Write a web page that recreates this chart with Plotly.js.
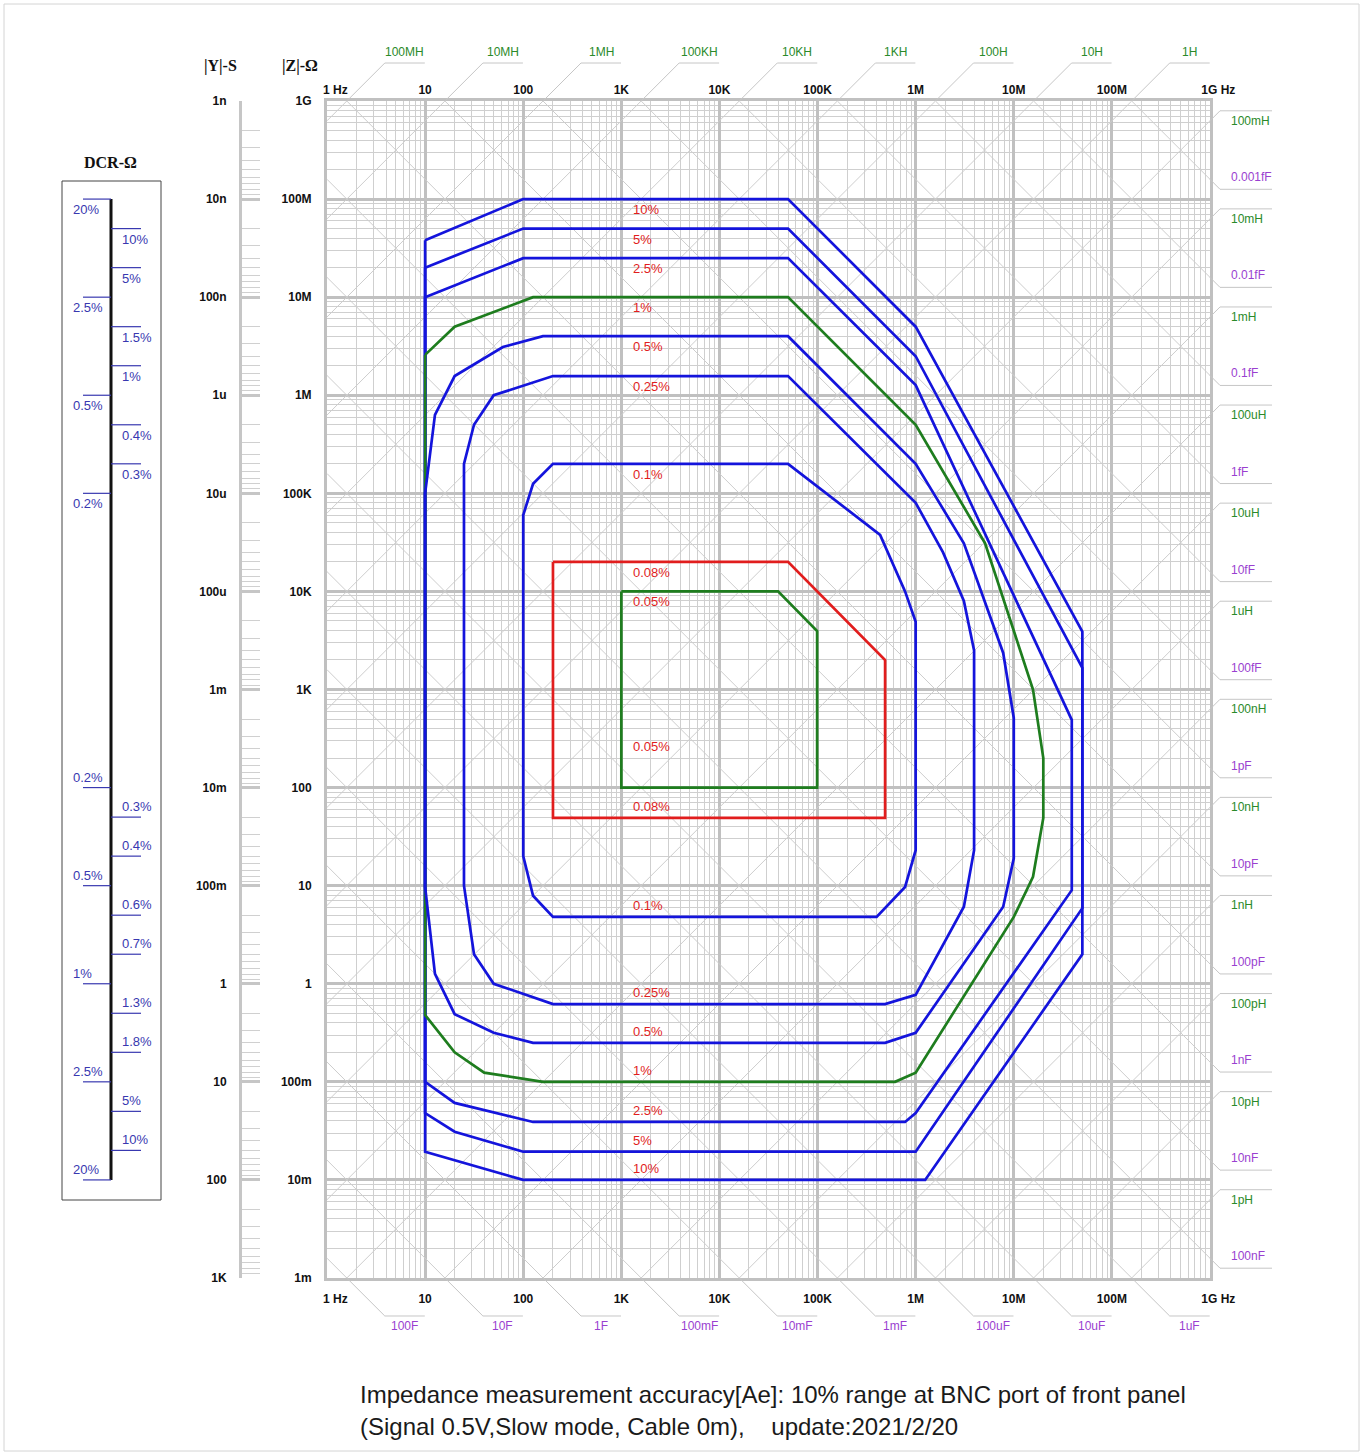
<!DOCTYPE html>
<html><head><meta charset="utf-8">
<script src="https://cdn.plot.ly/plotly-3.0.1.min.js"></script>
<style>html,body{margin:0;padding:0;background:#fff}</style>
</head><body>
<div id="chart" style="width:1364px;height:1452px"></div>
<script>
// ---------------- data ----------------
const freqTicks = [1, 10, 100, 1e3, 1e4, 1e5, 1e6, 1e7, 1e8, 1e9];
const freqLabels = ['1 Hz', '10', '100', '1K', '10K', '100K', '1M', '10M', '100M', '1G Hz'];
const zTicks = [1e9, 1e8, 1e7, 1e6, 1e5, 1e4, 1e3, 100, 10, 1, 0.1, 0.01, 0.001];
const zLabels = ['1G', '100M', '10M', '1M', '100K', '10K', '1K', '100', '10', '1', '100m', '10m', '1m'];
const yTicks = [1e-9, 1e-8, 1e-7, 1e-6, 1e-5, 1e-4, 1e-3, 1e-2, 0.1, 1, 10, 100, 1000];
const yLabels = ['1n', '10n', '100n', '1u', '10u', '100u', '1m', '10m', '100m', '1', '10', '100', '1K'];

const inductances = [1e8, 1e7, 1e6, 1e5, 1e4, 1e3, 100, 10, 1, 0.1, 0.01, 1e-3, 1e-4, 1e-5, 1e-6, 1e-7, 1e-8, 1e-9, 1e-10, 1e-11, 1e-12];
const inductanceLabels = ['100MH', '10MH', '1MH', '100KH', '10KH', '1KH', '100H', '10H', '1H', '100mH', '10mH', '1mH', '100uH', '10uH', '1uH', '100nH', '10nH', '1nH', '100pH', '10pH', '1pH'];
const capacitances = [100, 10, 1, 0.1, 0.01, 1e-3, 1e-4, 1e-5, 1e-6, 1e-7, 1e-8, 1e-9, 1e-10, 1e-11, 1e-12, 1e-13, 1e-14, 1e-15, 1e-16, 1e-17, 1e-18];
const capacitanceLabels = ['100F', '10F', '1F', '100mF', '10mF', '1mF', '100uF', '10uF', '1uF', '100nF', '10nF', '1nF', '100pF', '10pF', '1pF', '100fF', '10fF', '1fF', '0.1fF', '0.01fF', '0.001fF'];

// accuracy contours: frequency (Hz) and |Z| (ohm)
const acc10F = [10, 100, 5e4, 1e6, 5e7, 5e7, 1.25e6, 100, 10, 10];
const acc10Z = [3.8e7, 1e8, 1e8, 5e6, 3.9e3, 2, 0.01, 0.01, 0.0194, 3.8e7];
const acc5F = [10, 100, 5e4, 1e6, 5e7, 5e7, 1e6, 100, 20, 10, 10];
const acc5Z = [2e7, 5e7, 5e7, 2.5e6, 1.66e3, 5.9, 0.0194, 0.0194, 0.031, 0.048, 2e7];
const acc2p5F = [10, 100, 5e4, 1e6, 3.9e7, 3.9e7, 1e6, 7.8e5, 126, 20, 10, 10];
const acc2p5Z = [1e7, 2.5e7, 2.5e7, 1.27e6, 490, 9, 0.048, 0.039, 0.039, 0.061, 0.1, 1e7];
const acc1F = [10, 20, 126, 5e4, 1e6, 5.1e6, 1.57e7, 2e7, 2e7, 1.57e7, 1e7, 1e6, 6.17e5, 159, 40, 20, 10, 10];
const acc1Z = [2.58e6, 5e6, 1e7, 1e7, 5e5, 3.1e4, 1e3, 200, 49, 12.3, 4.8, 0.124, 0.1, 0.1, 0.124, 0.2, 0.48, 2.58e6];
const acc0p5F = [10, 12.6, 20, 62, 159, 5e4, 1e6, 3.1e6, 7.8e6, 1e7, 1e7, 7.8e6, 1e6, 4.88e5, 126, 50, 20, 12.6, 10, 10];
const acc0p5Z = [1e5, 6.3e5, 1.57e6, 3.1e6, 4e6, 4e6, 2e5, 3.1e4, 2.36e3, 513, 19, 6.1, 0.316, 0.25, 0.25, 0.316, 0.49, 1.26, 9.7, 1e5];
const acc0p25F = [24.9, 24.9, 31.5, 50, 201, 5e4, 1e6, 1.9e6, 3.1e6, 3.94e6, 3.94e6, 3.1e6, 1e6, 4.88e5, 201, 50, 31.5, 24.9];
const acc0p25Z = [10, 2e5, 5e5, 1e6, 1.57e6, 1.57e6, 8e4, 2.5e4, 8e3, 2.5e3, 23, 6.1, 0.77, 0.62, 0.62, 1, 2, 10];
const acc0p1F = [100, 100, 126, 201, 5e4, 4.34e5, 7.8e5, 1e6, 1e6, 7.8e5, 4e5, 201, 126, 100];
const acc0p1Z = [20, 6e4, 1.25e5, 2e5, 2e5, 3.77e4, 1e4, 4.9e3, 23, 9.7, 4.8, 4.8, 7.9, 20];
const acc0p08F = [201, 5e4, 4.88e5, 4.88e5, 201, 201];
const acc0p08Z = [2e4, 2e4, 2e3, 49, 49, 2e4];
const acc0p05F = [1e3, 3.96e4, 9.9e4, 9.9e4, 1e3, 1e3];
const acc0p05Z = [1e4, 1e4, 3.95e3, 100, 100, 1e4];

// contour labels: text and |Z| of the line they name
const accLabelText = ['10%', '5%', '2.5%', '1%', '0.5%', '0.25%', '0.1%', '0.08%', '0.05%', '0.05%', '0.08%', '0.1%', '0.25%', '0.5%', '1%', '2.5%', '5%', '10%'];
const accLabelZ = [1e8, 5e7, 2.5e7, 1e7, 4e6, 1.57e6, 2e5, 2e4, 1e4, 260, 49, 4.8, 0.62, 0.25, 0.1, 0.039, 0.0194, 0.01];
const accLabelF = 1259;

// DCR scale
const dcrLeftZ = [1e8, 1e7, 1e6, 1e5, 100, 10, 1, 0.1, 0.01];
const dcrLeftText = ['20%', '2.5%', '0.5%', '0.2%', '0.2%', '0.5%', '1%', '2.5%', '20%'];
const dcrRightZ = [5e7, 2e7, 5e6, 2e6, 5e5, 2e5, 50, 20, 5, 2, 0.5, 0.2, 0.05, 0.02];
const dcrRightText = ['10%', '5%', '1.5%', '1%', '0.4%', '0.3%', '0.3%', '0.4%', '0.6%', '0.7%', '1.3%', '1.8%', '5%', '10%'];

const captionLines = ['Impedance measurement accuracy[Ae]: 10% range at BNC port of front panel',
                      '(Signal 0.5V,Slow mode, Cable 0m),    update:2021/2/20'];

// ---------------- layout geometry / style ----------------
const W = 1364, H = 1452;
const xDom = [327 / W, 1210 / W];
const yDom = [1 - 1278 / H, 1 - 101 / H];
const xR = [0, 9], yR = [-3, 9];
const xPer = (xR[1] - xR[0]) / (xDom[1] - xDom[0]);
const yPer = (yR[1] - yR[0]) / (yDom[1] - yDom[0]);
const x2R = [xR[0] - xDom[0] * xPer, xR[1] + (1 - xDom[1]) * xPer];
const y2R = [yR[0] - yDom[0] * yPer, yR[1] + (1 - yDom[1]) * yPer];
const DEC = (xDom[1] - xDom[0]) * W / 9; // px per decade
const LOG2PI = Math.log10(2 * Math.PI);

const BLUE = '#1414dc', GREEN = '#1e7d1e', RED = '#e11d1d';
const GRID_MAJOR = '#c0c0c0', GRID_MINOR = '#cfcfcf', DIAG = '#cdcdcd', LEAD = '#c6c6c6';
const L_COLOR = '#2a8a2a', C_COLOR = '#9a3fd0', DCR_COLOR = '#3838b0';
const SANS = 'Liberation Sans, Arial, Helvetica, sans-serif';
const SERIF = 'Liberation Serif, DejaVu Serif, serif';
const NB = '\u00a0';
const pad = s => s.indexOf(' Hz') >= 0 ? NB.repeat(5) + s : s;
const bold = s => '<b>' + s + '</b>';
const tickFont = {family: SANS, size: 12, color: '#111'};

const traces = [];
// constant-L and constant-C diagonals (inside plot)
const Lx = [], Ly = [], Cx = [], Cy = [];
inductances.forEach(L => {
  const a = LOG2PI + Math.log10(L);
  const xs = Math.max(xR[0], yR[0] - a), xe = Math.min(xR[1], yR[1] - a);
  if (xe > xs) { Lx.push(10 ** xs, 10 ** xe, null); Ly.push(10 ** (xs + a), 10 ** (xe + a), null); }
});
capacitances.forEach(C => {
  const b = -LOG2PI - Math.log10(C);
  const xs = Math.max(xR[0], b - yR[1]), xe = Math.min(xR[1], b - yR[0]);
  if (xe > xs) { Cx.push(10 ** xs, 10 ** xe, null); Cy.push(10 ** (b - xs), 10 ** (b - xe), null); }
});
const common = {mode: 'lines', hoverinfo: 'skip', showlegend: false};
traces.push(Object.assign({x: Lx, y: Ly, line: {color: DIAG, width: 1}, xaxis: 'x', yaxis: 'y'}, common));
traces.push(Object.assign({x: Cx, y: Cy, line: {color: DIAG, width: 1}, xaxis: 'x', yaxis: 'y'}, common));

// leaders (outside plot) + labels
const annotations = [];
const dT = 38 / DEC, hT = 40 / DEC, dR = 10 / DEC, hR = 52 / DEC, tR = 19 / DEC;
const LDx = [], LDy = [];
function addLeader(pts) { pts.forEach(p => { LDx.push(10 ** p[0]); LDy.push(10 ** p[1]); }); LDx.push(null); LDy.push(null); }
inductances.forEach((L, i) => {
  const a = LOG2PI + Math.log10(L);
  const lf = {family: SANS, size: 12, color: L_COLOR};
  if (yR[1] - a <= xR[1]) {
    const x0 = yR[1] - a;
    addLeader([[x0, yR[1]], [x0 + dT, yR[1] + dT], [x0 + dT + hT, yR[1] + dT]]);
    annotations.push({xref: 'x2', yref: 'y2', x: x0 + dT + hT / 2, y: yR[1] + dT, yanchor: 'bottom', xanchor: 'center', yshift: 2, text: inductanceLabels[i], showarrow: false, font: lf});
  } else {
    const y0 = xR[1] + a;
    addLeader([[xR[1], y0], [xR[1] + dR, y0 + dR], [xR[1] + dR + hR, y0 + dR]]);
    annotations.push({xref: 'x2', yref: 'y2', x: xR[1] + tR, y: y0 + dR, yanchor: 'top', xanchor: 'left', yshift: -1, text: inductanceLabels[i], showarrow: false, font: lf});
  }
});
capacitances.forEach((C, i) => {
  const b = -LOG2PI - Math.log10(C);
  const cf = {family: SANS, size: 12, color: C_COLOR};
  if (b - yR[0] <= xR[1]) {
    const x0 = b - yR[0];
    addLeader([[x0, yR[0]], [x0 + dT, yR[0] - dT], [x0 + dT + hT, yR[0] - dT]]);
    annotations.push({xref: 'x2', yref: 'y2', x: x0 + dT + hT / 2, y: yR[0] - dT, yanchor: 'top', xanchor: 'center', yshift: -1, text: capacitanceLabels[i], showarrow: false, font: cf});
  } else {
    const y0 = b - xR[1];
    addLeader([[xR[1], y0], [xR[1] + dR, y0 - dR], [xR[1] + dR + hR, y0 - dR]]);
    annotations.push({xref: 'x2', yref: 'y2', x: xR[1] + tR, y: y0 - dR, yanchor: 'bottom', xanchor: 'left', yshift: 3, text: capacitanceLabels[i], showarrow: false, font: cf});
  }
});
traces.push(Object.assign({x: LDx, y: LDy, line: {color: LEAD, width: 1}, xaxis: 'x2', yaxis: 'y2'}, common));

// accuracy contours
const contours = [
  [acc10F, acc10Z, BLUE], [acc5F, acc5Z, BLUE], [acc2p5F, acc2p5Z, BLUE], [acc1F, acc1Z, GREEN],
  [acc0p5F, acc0p5Z, BLUE], [acc0p25F, acc0p25Z, BLUE], [acc0p1F, acc0p1Z, BLUE],
  [acc0p08F, acc0p08Z, RED], [acc0p05F, acc0p05Z, GREEN]
];
contours.forEach(c => traces.push(Object.assign({x: c[0], y: c[1], line: {color: c[2], width: 2.7}, xaxis: 'x', yaxis: 'y'}, common)));

// dummy traces so the helper axes exist
traces.push({x: [10], y: [1], xaxis: 'x3', yaxis: 'y', mode: 'markers', marker: {opacity: 0}, hoverinfo: 'skip', showlegend: false});
traces.push({x: [10], y: [1], xaxis: 'x', yaxis: 'y4', mode: 'markers', marker: {opacity: 0}, hoverinfo: 'skip', showlegend: false});

// contour labels
accLabelText.forEach((t, i) => {
  const anc = i < 9 ? 'top' : (i === 9 ? 'middle' : 'bottom');
  annotations.push({xref: 'x', yref: 'y', x: Math.log10(accLabelF), y: Math.log10(accLabelZ[i]), xanchor: 'left', yanchor: anc,
    yshift: anc === 'top' ? -1 : (anc === 'bottom' ? 2 : 0), text: t, showarrow: false, font: {family: SANS, size: 13, color: RED}});
});

// DCR panel
const shapes = [];
const px = p => p / W, py = p => 1 - p / H;
shapes.push({type: 'rect', xref: 'paper', yref: 'paper', x0: px(62), x1: px(161), y0: py(1200), y1: py(181), line: {color: '#444', width: 1}});
shapes.push({type: 'line', xref: 'paper', yref: 'y2', x0: px(111), x1: px(111), y0: dcrLeftZ[0], y1: dcrLeftZ[dcrLeftZ.length - 1], line: {color: '#111', width: 3}});
const dcrFont = {family: SANS, size: 13, color: DCR_COLOR};
dcrLeftZ.forEach((z, i) => {
  shapes.push({type: 'line', xref: 'paper', yref: 'y2', x0: px(83), x1: px(111), y0: z, y1: z, line: {color: DCR_COLOR, width: 1.2}});
  const up = z < 1e3;
  annotations.push({xref: 'paper', yref: 'y2', x: px(71), y: Math.log10(z), xanchor: 'left', yanchor: up ? 'bottom' : 'top', yshift: up ? 1 : -1, text: dcrLeftText[i], showarrow: false, font: dcrFont});
});
dcrRightZ.forEach((z, i) => {
  shapes.push({type: 'line', xref: 'paper', yref: 'y2', x0: px(111), x1: px(141), y0: z, y1: z, line: {color: DCR_COLOR, width: 1.2}});
  const up = z < 1e3;
  annotations.push({xref: 'paper', yref: 'y2', x: px(120), y: Math.log10(z), xanchor: 'left', yanchor: up ? 'bottom' : 'top', yshift: up ? 1 : -1, text: dcrRightText[i], showarrow: false, font: dcrFont});
});

// titles
const titleFont = {family: SERIF, size: 16, color: '#111'};
const titleAnn = (t, x, y) => ({xref: 'paper', yref: 'paper', x: px(x), y: py(y), xanchor: 'center', yanchor: 'middle', text: '<b>' + t + '</b>', showarrow: false, font: titleFont});
annotations.push(titleAnn('DCR-Ω', 110, 163));
annotations.push(titleAnn('|Y|-S', 220, 66));
annotations.push(titleAnn('|Z|-Ω', 300, 66));
captionLines.forEach((t, i) => annotations.push({xref: 'paper', yref: 'paper', x: px(358), y: py(1394 + 32 * i), xanchor: 'left', yanchor: 'middle',
  text: t.replace(/ {2,}/g, m => NB.repeat(m.length)), showarrow: false, font: {family: 'Liberation Sans Narrow, Liberation Sans, Arial, sans-serif', size: 24, color: '#1a1a1a'}}));

// page frame
shapes.push({type: 'rect', xref: 'paper', yref: 'paper', x0: px(4), x1: px(1359), y0: py(1451), y1: py(4), line: {color: '#d4d4d4', width: 1}});

const gridAxis = {type: 'log', showgrid: true, gridcolor: GRID_MAJOR, gridwidth: 3,
  minor: {dtick: 'D1', showgrid: true, gridcolor: GRID_MINOR, gridwidth: 1},
  showline: true, mirror: true, linecolor: GRID_MAJOR, linewidth: 3, zeroline: false, fixedrange: true,
  tickmode: 'array', tickfont: tickFont, ticks: 'outside', tickcolor: 'rgba(0,0,0,0)'};

const layout = {
  width: W, height: H, margin: {l: 0, r: 0, t: 0, b: 0}, paper_bgcolor: '#fff', plot_bgcolor: 'rgba(0,0,0,0)', showlegend: false,
  xaxis: Object.assign({}, gridAxis, {domain: xDom, range: xR, anchor: 'y', side: 'bottom', tickvals: freqTicks, ticktext: freqLabels.map(pad).map(bold), ticklen: 8}),
  yaxis: Object.assign({}, gridAxis, {domain: yDom, range: yR, anchor: 'x', side: 'left', tickvals: zTicks, ticktext: zLabels.map(bold), ticklen: 10}),
  xaxis3: {type: 'log', overlaying: 'x', side: 'top', anchor: 'y', range: xR, tickmode: 'array', tickvals: freqTicks, ticktext: freqLabels.map(pad).map(bold),
    tickfont: tickFont, ticks: 'outside', ticklen: 1, tickcolor: 'rgba(0,0,0,0)', showgrid: false, showline: false, zeroline: false, fixedrange: true},
  yaxis4: {type: 'log', overlaying: 'y', anchor: 'free', position: 240 / W, side: 'left', range: [3, -9], showgrid: false, zeroline: false,
    showline: true, linecolor: '#c6c6c6', linewidth: 3, ticks: 'inside', ticklen: 18, tickwidth: 3, tickcolor: '#c6c6c6',
    tickmode: 'array', tickvals: yTicks, ticktext: yLabels.map(bold), tickfont: tickFont, ticklabelstandoff: 10,
    minor: {ticks: 'inside', ticklen: 18, tickwidth: 1, tickcolor: '#d0d0d0', dtick: 'D1'}, fixedrange: true},
  xaxis2: {type: 'log', domain: [0, 1], range: x2R, anchor: 'y2', visible: false, fixedrange: true},
  yaxis2: {type: 'log', domain: [0, 1], range: y2R, anchor: 'x2', visible: false, fixedrange: true},
  shapes: shapes, annotations: annotations
};
Plotly.newPlot('chart', traces, layout, {displayModeBar: false, staticPlot: true});
</script>
</body></html>
